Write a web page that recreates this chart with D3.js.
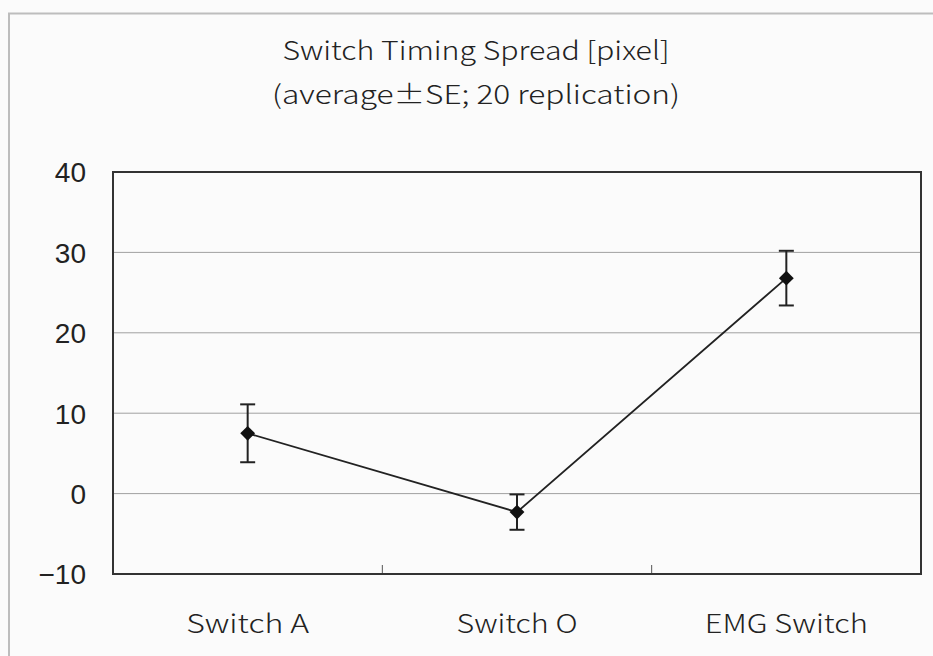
<!DOCTYPE html>
<html>
<head>
<meta charset="utf-8">
<script src="https://cdn.jsdelivr.net/npm/d3@7"></script>
<style>
  html, body { margin: 0; padding: 0; background: #fbfbfb; }
  svg { display: block; }
</style>
</head>
<body>
<svg id="chart" width="933" height="656"></svg>
<script>
const categories = ["Switch A", "Switch O", "EMG Switch"];
const means = [7.5, -2.3, 26.8];
const se = [3.6, 2.2, 3.4];
const yTicks = [-10, 0, 10, 20, 30, 40];
const titleLines = ["Switch Timing Spread [pixel]", "(average\u00b1SE; 20 replication)"];

const svg = d3.select("#chart");
const W = 933, H = 656;
const plot = { left: 113, right: 921, top: 172, bottom: 574 };

svg.append("rect").attr("width", W).attr("height", H).attr("fill", "#fbfbfb");

// outer frame (top and left visible)
svg.append("path")
  .attr("d", `M9,${H} L9,13.5 L${W},13.5`)
  .attr("fill", "none").attr("stroke", "#bdbdbd").attr("stroke-width", 2);

const x = d3.scaleBand().domain(categories).range([plot.left, plot.right]).padding(0);
const y = d3.scaleLinear().domain([-10, 40]).range([plot.bottom, plot.top]);

// gridlines
svg.append("g").selectAll("line").data(yTicks.filter(t => t > -10 && t < 40)).join("line")
  .attr("x1", plot.left).attr("x2", plot.right)
  .attr("y1", d => y(d)).attr("y2", d => y(d))
  .attr("stroke", "#a0a0a0").attr("stroke-width", 1);

// y axis labels
const yAxis = d3.axisLeft(y).tickValues(yTicks).tickSize(0).tickPadding(0)
  .tickFormat(d => d < 0 ? "\u2212" + Math.abs(d) : d);
const gy = svg.append("g").attr("transform", `translate(${plot.left - 27},0)`).call(yAxis);
gy.select(".domain").remove();
gy.selectAll("text")
  .attr("font-family", "Liberation Sans, Arial, sans-serif")
  .attr("font-size", 28).attr("fill", "#222").attr("dy", "0.35em");

// category boundary ticks
const bounds = categories.slice(1).map(c => x(c));
svg.append("g").selectAll("line").data(bounds).join("line")
  .attr("x1", d => d).attr("x2", d => d)
  .attr("y1", plot.bottom).attr("y2", plot.bottom - 9)
  .attr("stroke", "#555").attr("stroke-width", 1);

// plot border
svg.append("rect")
  .attr("x", plot.left).attr("y", plot.top)
  .attr("width", plot.right - plot.left).attr("height", plot.bottom - plot.top)
  .attr("fill", "none").attr("stroke", "#333").attr("stroke-width", 2);

// x labels
const xLabelWidths = [123, 121, 163];
const xAxis = d3.axisBottom(x).tickSize(0).tickPadding(0);
const gx = svg.append("g").attr("transform", `translate(0,${plot.bottom + 59})`).call(xAxis);
gx.select(".domain").remove();
gx.selectAll("text")
  .attr("font-family", "Noto Sans CJK JP, sans-serif")
  .attr("font-size", 26).attr("font-weight", 300).attr("fill", "#222").attr("dy", 0)
  .attr("textLength", (d, i) => xLabelWidths[i])
  .attr("lengthAdjust", "spacingAndGlyphs");

const data = categories.map((c, i) => ({ c, m: means[i], s: se[i] }));
const cx = d => x(d.c) + x.bandwidth() / 2;

// line
svg.append("path").datum(data)
  .attr("d", d3.line().x(cx).y(d => y(d.m)))
  .attr("fill", "none").attr("stroke", "#222").attr("stroke-width", 1.8);

// error bars
const eb = svg.append("g").attr("stroke", "#222").attr("stroke-width", 2);
data.forEach(d => {
  eb.append("line").attr("x1", cx(d)).attr("x2", cx(d)).attr("y1", y(d.m + d.s)).attr("y2", y(d.m - d.s));
  eb.append("line").attr("x1", cx(d) - 7.5).attr("x2", cx(d) + 7.5).attr("y1", y(d.m + d.s)).attr("y2", y(d.m + d.s));
  eb.append("line").attr("x1", cx(d) - 7.5).attr("x2", cx(d) + 7.5).attr("y1", y(d.m - d.s)).attr("y2", y(d.m - d.s));
});

// markers
svg.append("g").selectAll("path").data(data).join("path")
  .attr("transform", d => `translate(${cx(d)},${y(d.m)})`)
  .attr("d", d3.symbol(d3.symbolDiamond2, 140)())
  .attr("fill", "#111");

// title
const titleWidths = [387, 408];
svg.append("g").selectAll("text").data(titleLines).join("text")
  .attr("x", 476).attr("y", (d, i) => 60 + i * 44)
  .attr("text-anchor", "middle")
  .attr("font-family", "Noto Sans CJK JP, sans-serif")
  .attr("font-size", 26).attr("font-weight", 300).attr("fill", "#222")
  .attr("textLength", (d, i) => titleWidths[i])
  .attr("lengthAdjust", "spacingAndGlyphs")
  .text(d => d);
</script>
</body>
</html>
